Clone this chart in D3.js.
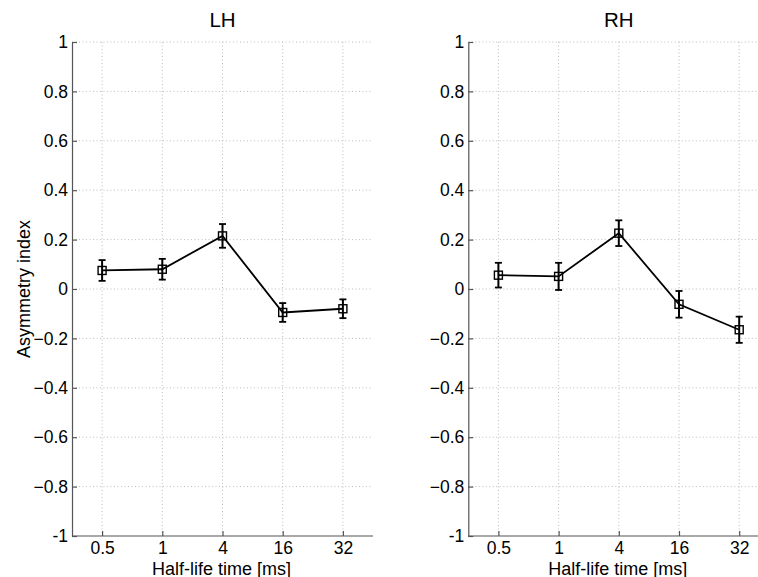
<!DOCTYPE html>
<html>
<head>
<meta charset="utf-8">
<script src="https://cdn.jsdelivr.net/npm/d3@7"></script>
<style>
  html, body { margin: 0; padding: 0; background: #fff; }
  svg { display: block; }
  text { font-family: "Liberation Sans", Arial, Helvetica, sans-serif; fill: #000; }
</style>
</head>
<body>
<div id="chart"></div>
<script>
// ---- data ----
const categories = ["0.5", "1", "4", "16", "32"];
const lhValues = [0.075, 0.080, 0.215, -0.095, -0.080];
const lhErrors = [0.042, 0.042, 0.048, 0.038, 0.038];
const rhValues = [0.056, 0.051, 0.226, -0.062, -0.165];
const rhErrors = [0.050, 0.055, 0.052, 0.054, 0.053];
const yTicks = [-1, -0.8, -0.6, -0.4, -0.2, 0, 0.2, 0.4, 0.6, 0.8, 1];
const panelTitles = ["LH", "RH"];
const xLabel = "Half-life time [ms]";
const yLabel = "Asymmetry index";

(function () {
const W = 758, H = 577;
const svg = d3.select("#chart").append("svg").attr("width", W).attr("height", H);

const panels = [
  { title: panelTitles[0], values: lhValues, errors: lhErrors, left: 72, yLab: true },
  { title: panelTitles[1], values: rhValues, errors: rhErrors, left: 468.3, yLab: false }
];
const pw = 301, plotTop = 42, plotBottom = 536;
const y = d3.scaleLinear().domain([-1, 1]).range([plotBottom, plotTop]);
const fmt = d => (d === 0 ? "0" : (d === 1 || d === -1) ? String(d) : d3.format(".1f")(d));

panels.forEach(p => {
  const x = d3.scalePoint().domain(categories).range([p.left, p.left + pw]).padding(0.5);
  const g = svg.append("g");

  // grid
  g.append("g").selectAll("line").data(yTicks.filter(t => t !== -1)).join("line")
    .attr("x1", p.left).attr("x2", p.left + pw)
    .attr("y1", d => y(d)).attr("y2", d => y(d))
    .attr("stroke", "#bcbcbc").attr("stroke-width", 1).attr("stroke-dasharray", "1,2.5");
  g.append("g").selectAll("line").data(categories).join("line")
    .attr("x1", d => x(d)).attr("x2", d => x(d))
    .attr("y1", plotTop).attr("y2", plotBottom)
    .attr("stroke", "#bcbcbc").attr("stroke-width", 1).attr("stroke-dasharray", "1,2.5");

  // axes
  const ya = g.append("g").attr("transform", `translate(${p.left},0)`)
    .call(d3.axisLeft(y).tickValues(yTicks).tickFormat(fmt).tickSizeInner(-5).tickSizeOuter(0).tickPadding(4));
  const xa = g.append("g").attr("transform", `translate(0,${plotBottom})`)
    .call(d3.axisBottom(x).tickSizeInner(-5).tickSizeOuter(0).tickPadding(6));
  [ya, xa].forEach(a => {
    a.select(".domain").attr("stroke", "#555").attr("stroke-width", 1.2);
    a.selectAll(".tick line").attr("stroke", "#555").attr("stroke-width", 1.2);
    a.selectAll(".tick text").attr("font-size", 17.5).attr("fill", "#000")
      .style("font-family", '"Liberation Sans", Arial, sans-serif');
  });
  xa.select(".domain").attr("d", `M${p.left},0H${p.left + pw}`);

  // title
  g.append("text").attr("x", p.left + pw / 2).attr("y", 27)
    .attr("text-anchor", "middle").attr("font-size", 20.5).text(p.title);
  // x label
  g.append("text").attr("x", p.left + pw / 2 - 1).attr("y", 574.5)
    .attr("text-anchor", "middle").attr("font-size", 18).text(xLabel);
  if (p.yLab) {
    g.append("text").attr("transform", `translate(30,${(plotTop + plotBottom) / 2}) rotate(-90)`)
      .attr("text-anchor", "middle").attr("font-size", 18).text(yLabel);
  }

  const pts = categories.map((c, i) => ({ c, v: p.values[i], e: p.errors[i] }));
  g.append("path").datum(pts)
    .attr("d", d3.line().x(d => x(d.c)).y(d => y(d.v)))
    .attr("fill", "none").attr("stroke", "#000").attr("stroke-width", 1.8);
  const eb = g.append("g").selectAll("g").data(pts).join("g");
  eb.append("line").attr("x1", d => x(d.c)).attr("x2", d => x(d.c))
    .attr("y1", d => y(d.v + d.e)).attr("y2", d => y(d.v - d.e))
    .attr("stroke", "#000").attr("stroke-width", 2);
  eb.append("line").attr("x1", d => x(d.c) - 3.5).attr("x2", d => x(d.c) + 3.5)
    .attr("y1", d => y(d.v + d.e)).attr("y2", d => y(d.v + d.e))
    .attr("stroke", "#000").attr("stroke-width", 1.8);
  eb.append("line").attr("x1", d => x(d.c) - 3.5).attr("x2", d => x(d.c) + 3.5)
    .attr("y1", d => y(d.v - d.e)).attr("y2", d => y(d.v - d.e))
    .attr("stroke", "#000").attr("stroke-width", 1.8);
  eb.append("rect").attr("x", d => x(d.c) - 4).attr("y", d => y(d.v) - 4)
    .attr("width", 8).attr("height", 8)
    .attr("fill", "none").attr("stroke", "#000").attr("stroke-width", 1.4);
});
})();
</script>
</body>
</html>
